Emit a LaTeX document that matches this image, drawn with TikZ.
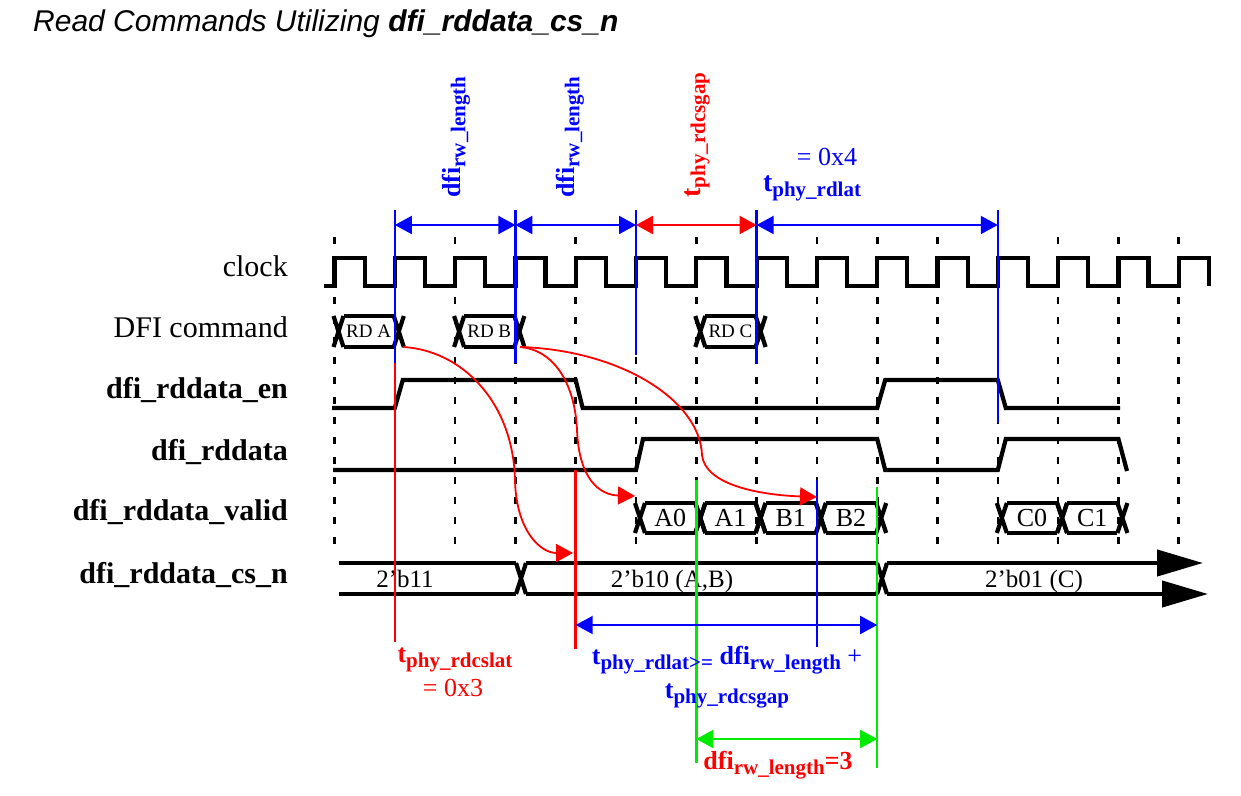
\documentclass[tikz,border=0pt]{standalone}
\usepackage{fontspec}
\setmainfont{Liberation Serif}
\newfontfamily\titlefont{Liberation Sans}
\usetikzlibrary{calc,arrows.meta}
\definecolor{dfiblue}{RGB}{0,0,255}
\definecolor{dfired}{RGB}{255,0,0}
\definecolor{dfigreen}{RGB}{0,235,0}
\newcommand{\fsz}[1]{\fontsize{#1}{#1}\selectfont}
\newcommand{\sbs}[2][21]{\raisebox{-5pt}{\fsz{#1}#2}}
\newcommand{\busx}[3]{% crossing at #1, top #2, bottom #3
\draw[wave] ({#1-5},#2) -- ({#1+5},#3) ({#1-5},#3) -- ({#1+5},#2);}
\newcommand{\busbox}[6]{% name, left, right, top, bottom, text
\busx{#2}{#4}{#5}\busx{#3}{#4}{#5}
\draw[wave] ({#2+5},#4) -- ({#3-5},#4) ({#2+5},#5) -- ({#3-5},#5);
\node[boxtext] (#1) at ({(#2+#3)/2},{(#4+#5)/2}) {#6};}
\tikzstyle{wave}=[line width=4.2pt]
\tikzstyle{grid}=[line width=2.6pt, dash pattern=on 7pt off 13pt]
\tikzstyle{signame}=[anchor=base east, inner sep=0pt, font=\fsz{30}]
\tikzstyle{sigbold}=[signame, font=\fsz{30}\bfseries]
\tikzstyle{bustext}=[anchor=base, inner sep=0pt, font=\fsz{25}]
\tikzstyle{bmark}=[dfiblue, line width=2.5pt]
\tikzstyle{rmark}=[dfired, line width=2.5pt]
\tikzstyle{gmark}=[dfigreen, line width=2.5pt]
\tikzstyle{bluedim}=[dfiblue, line width=2pt, <->]
\tikzstyle{reddim}=[dfired, line width=2pt, <->]
\tikzstyle{greendim}=[dfigreen, line width=2pt, <->]
\tikzstyle{redcurve}=[dfired, line width=1.8pt, ->]

\begin{document}
\begin{tikzpicture}[x=1pt,y=-1pt,>={Triangle[length=17pt,width=18pt]}]
\useasboundingbox (0,0) rectangle (1241,795);
% rising edges of the clock
\foreach \k in {0,...,14} \coordinate (t\k) at ({334.5+60.3*\k},0);
\coordinate (ytop) at (0,210);
\coordinate (ydim) at (0,225);
\coordinate (ydimb) at (0,625);
\coordinate (ygrn) at (0,739);

% title
\node[anchor=west, inner sep=0pt, font=\titlefont\fsz{30}\itshape] (title) at (33,24)
  {Read Commands Utilizing \textbf{dfi\_rddata\_cs\_n}};

% signal names
\node[signame] (lclk) at (288,276) {clock};
\node[signame] (lcmd) at (288,337) {DFI command};
\node[sigbold] (len) at (288,398) {dfi\_rddata\_en};
\node[sigbold] (ldata) at (288,460) {dfi\_rddata};
\node[sigbold] (lvalid) at (288,520) {dfi\_rddata\_valid};
\node[sigbold] (lcsn) at (288,583) {dfi\_rddata\_cs\_n};

% grid
\foreach \k in {0,...,14}
  \draw[grid] ($(t\k)+(0,237)$) -- ($(t\k)+(0,545)$);

% clock
\draw[wave] (324,286) \foreach \k in {0,...,14} {
  -- ({334.5+60.3*\k},286) -- ({334.5+60.3*\k},258)
  -- ({364.65+60.3*\k},258) -- ({364.65+60.3*\k},286)};

% DFI command
\begin{scope}[boxtext/.style={inner sep=0pt, font=\fsz{19}}]
\busbox{rdA}{338.5}{398.8}{316}{347}{RD A}
\busbox{rdB}{459.1}{519.4}{316}{347}{RD B}
\busbox{rdC}{700.3}{760.6}{316}{347}{RD C}
\end{scope}

% dfi_rddata_en
\draw[wave] (332,408) -- (394.8,408) -- (402.8,380) -- (575.7,380) -- (582.7,408)
  -- (877.2,408) -- (885.2,380) -- (997.8,380) -- (1005.8,408) -- (1120,408);

% dfi_rddata
\draw[wave] (333,470) -- (636,470) -- (643,439) -- (877.2,439) -- (885.2,470)
  -- (997.8,470) -- (1005.8,439) -- (1118.4,439) -- (1127,471);

% dfi_rddata_valid
\begin{scope}[boxtext/.style={inner sep=0pt, font=\fsz{26}}]
\busbox{vA0}{640}{700.3}{503}{533}{A0}
\busbox{vA1}{700.3}{760.6}{503}{533}{A1}
\busbox{vB1}{760.6}{820.9}{503}{533}{B1}
\busbox{vB2}{820.9}{881.2}{503}{533}{B2}
\busbox{vC0}{1001.8}{1062.1}{503}{533}{C0}
\busbox{vC1}{1062.1}{1122.4}{503}{533}{C1}
\end{scope}

% dfi_rddata_cs_n
\draw[wave] (339,563) -- (516,563) (339,594) -- (516,594);
\busx{521}{563}{594}
\draw[wave] (526,563) -- (877,563) (526,594) -- (877,594);
\busx{882}{563}{594}
\draw[wave, -{Triangle[length=46pt,width=26pt]}] (887,563) -- (1203,563);
\draw[wave, -{Triangle[length=46pt,width=26pt]}] (887,594) -- (1208,594);
\node[bustext] (cs11) at (405,587) {2’b11};
\node[bustext] (cs10) at (672,587) {2’b10 (A,B)};
\node[bustext] (cs01) at (1034,587) {2’b01 (C)};

% markers
\draw[bmark] (t1 |- ytop) -- ($(t1)+(0,363)$);
\draw[rmark] ($(t1)+(0,363)$) -- ($(t1)+(0,642)$);
\draw[bmark] (t3 |- ytop) -- ($(t3)+(0,363)$);
\draw[bmark] (t5 |- ytop) -- ($(t5)+(0,355)$);
\draw[bmark] (t7 |- ytop) -- ($(t7)+(0,364)$);
\draw[bmark] (t11 |- ytop) -- ($(t11)+(0,423)$);
\draw[rmark] ($(t4)+(0,470)$) -- ($(t4)+(0,649)$);
\draw[bmark] ($(t8)+(0,480)$) -- ($(t8)+(0,647)$);
\draw[gmark] ($(t6)+(0,480)$) -- ($(t6)+(0,763)$);
\draw[gmark] ($(t9)+(0,487)$) -- ($(t9)+(0,768)$);

% top dimensions
\draw[bluedim] (t1 |- ydim) -- (t3 |- ydim);
\draw[bluedim] (t3 |- ydim) -- (t5 |- ydim);
\draw[reddim] (t5 |- ydim) -- (t7 |- ydim);
\draw[bluedim] (t7 |- ydim) -- (t11 |- ydim);
\node[rotate=90, inner sep=0pt, text=dfiblue, font=\fsz{26}\bfseries] (rwlenA) at (456,137) {dfi\sbs{rw\_length}};
\node[rotate=90, inner sep=0pt, text=dfiblue, font=\fsz{26}\bfseries] (rwlenB) at (570,137) {dfi\sbs{rw\_length}};
\node[rotate=90, inner sep=0pt, text=dfired, font=\fsz{28}\bfseries] (csgapT) at (697,135) {t\sbs{phy\_rdcsgap}};
\node[inner sep=0pt, text=dfiblue, font=\fsz{26}] (rdlatV) at (827,157) {= 0x4};
\node[inner sep=0pt, text=dfiblue, font=\fsz{28}\bfseries] (rdlatT) at (812,188) {t\sbs{phy\_rdlat}};

% read commands to data
\coordinate (rdAend) at (403,347);
\coordinate (rdBend) at (520,347);
\coordinate (csTip) at (573,553);
\coordinate (a0Tip) at (635,496);
\coordinate (b1Tip) at (817,497);
\draw[redcurve] (rdAend) .. controls (460,350) and (513,400) .. (515,480)
  .. controls (516,530) and (540,553) .. (csTip);
\draw[redcurve] (rdBend) .. controls (555,350) and (575,385) .. (577,430)
  .. controls (579,480) and (600,495) .. (a0Tip);
\draw[redcurve] (rdBend) .. controls (620,350) and (700,400) .. (702,455)
  .. controls (705,485) and (760,495) .. (b1Tip);

% bottom dimensions
\draw[bluedim] (t4 |- ydimb) -- (t9 |- ydimb);
\draw[greendim] (t6 |- ygrn) -- (t9 |- ygrn);
\node[inner sep=0pt, text=dfired, font=\fsz{26}\bfseries] (rdcslat) at (455,660) {t\sbs{phy\_rdcslat}};
\node[inner sep=0pt, text=dfired, font=\fsz{26}] (rdcslatV) at (453,688) {= 0x3};
\node[inner sep=0pt, text=dfiblue, align=center, font=\fontsize{26}{34}\selectfont\bfseries] (rdlatRule) at (727,677)
  {t\sbs{phy\_rdlat>=} dfi\sbs{rw\_length} {\mdseries+}\\ t\sbs{phy\_rdcsgap}};
\node[inner sep=0pt, text=dfired, font=\fsz{26}\bfseries] (rwlen3) at (778,765) {dfi\sbs{rw\_length}=3};
\end{tikzpicture}
\end{document}
